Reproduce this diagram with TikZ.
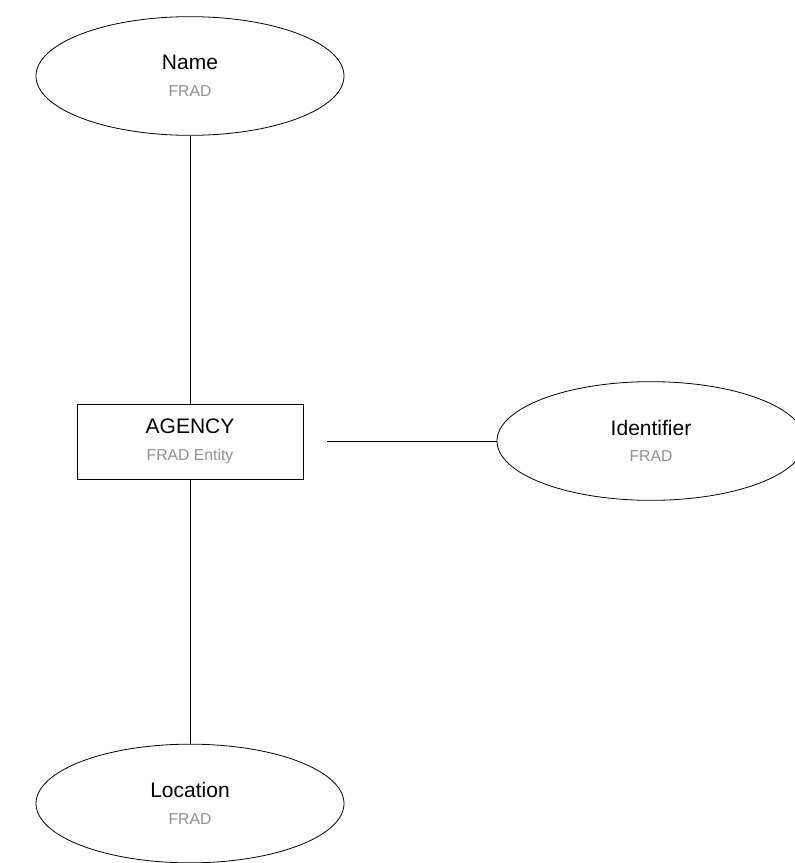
\documentclass[tikz,border=0pt]{standalone}
\usepackage{fontspec}
\setmainfont{Liberation Sans}
\usetikzlibrary{shapes.geometric}
\definecolor{subgray}{HTML}{8F8F8F}
\newcommand{\mainf}{\fontsize{15.75}{20}\selectfont}
\newcommand{\subf}{\fontsize{11.8}{14}\selectfont\color{subgray}}
\tikzset{
  attr/.style={draw=black, line width=0.6pt, ellipse, minimum width=231pt, minimum height=89pt, inner sep=0pt, align=center},
  entity/.style={draw=black, line width=0.6pt, rectangle, minimum width=169.5pt, minimum height=56.25pt, inner sep=0pt, align=center},
  conn/.style={draw=black, line width=0.75pt}
}
\begin{document}
\begin{tikzpicture}[x=0.75pt,y=-0.75pt]
\useasboundingbox (0,0) rectangle (795,863);
\node[attr] (name) at (190,76) {{\mainf Name}\\[8pt]{\subf FRAD}};
\node[entity] (agency) at (190,441.5) {{\mainf AGENCY}\\[8pt]{\subf FRAD Entity}};
\node[attr] (ident) at (651,441) {{\mainf Identifier}\\[8pt]{\subf FRAD}};
\node[attr] (loc) at (190,803.5) {{\mainf Location}\\[8pt]{\subf FRAD}};
\coordinate (hs) at (327,441);
\draw[conn] (name.south) -- (agency.north);
\draw[conn] (hs) -- (ident.west);
\draw[conn] (agency.south) -- (loc.north);
\end{tikzpicture}
\end{document}
